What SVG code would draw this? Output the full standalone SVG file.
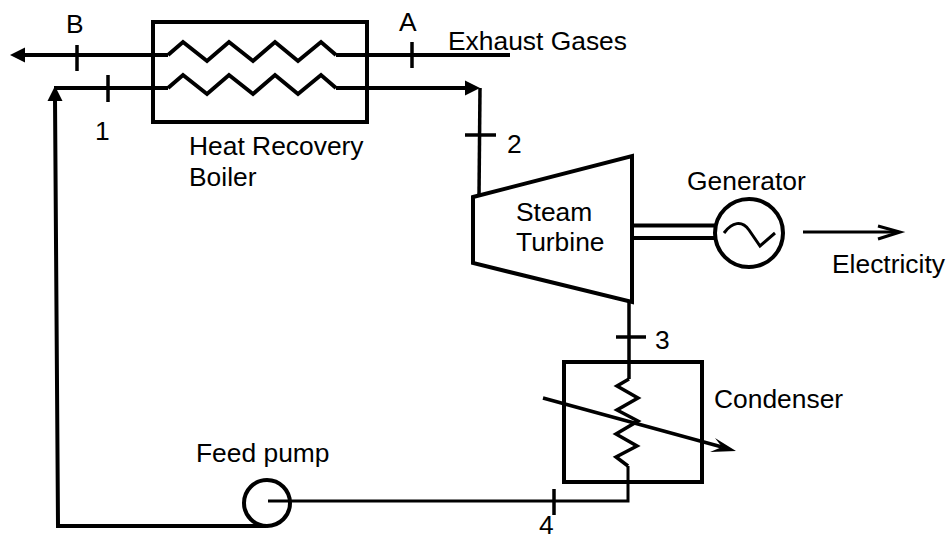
<svg xmlns="http://www.w3.org/2000/svg" width="947" height="540" viewBox="0 0 947 540">
<style>
.l{fill:none;stroke:#000;stroke-width:4}
.t{fill:none;stroke:#000;stroke-width:3.500}
.n{fill:none;stroke:#000;stroke-width:3}
text{font-family:"Liberation Sans",Arial,sans-serif;font-size:26.400px;fill:#000}
</style>
<rect width="947" height="540" fill="#fff"/>
<g id="connectors">
<path class="l" d="M168 55H25"/>
<path d="M10 55L25 47.500V62.500Z"/>
<path class="l" d="M336 55H510"/>
<path class="l" d="M54 88H168"/>
<path class="l" d="M336 88H468"/>
<path d="M480 88L465 80.500V95.500Z"/>
<path class="t" d="M480 88L479 196"/>
<path d="M55 86L62.500 101H47.500Z"/>
<path class="l" d="M55 98L58 526H266"/>
<path class="n" d="M268 501H628V466"/>
<path class="t" d="M629 302V379"/>
<path class="n" d="M803 232H895"/>
<path class="n" d="M878 226L900 232L878 239"/>
<path class="l" d="M633 225.500H715M633 238H715"/>
<path class="t" d="M543 398L722 447"/>
<path d="M736 451L715 438L722 447L710 452Z"/>
<path class="t" d="M77 45V71"/>
<path class="t" d="M412 42V68"/>
<path class="t" d="M108 75V102"/>
<path class="t" d="M465 135H496"/>
<path class="t" d="M616 337H646"/>
<path class="t" d="M554 489V515"/>
</g>
<g id="boiler">
<rect class="l" x="153" y="22" width="214" height="100"/>
<path class="l" d="M168 55L183 42L207 61L229 42L253 61L275 42L298 61L321 42L336 55"/>
<path class="l" d="M168 88L183 75L207 94L229 75L253 94L275 75L298 94L321 75L336 88"/>
<text x="189" y="155">Heat Recovery</text>
<text x="189" y="186">Boiler</text>
</g>
<g id="turbine">
<path class="l" d="M473 197L632 156V302L473 263Z"/>
<text x="516" y="221">Steam</text>
<text x="516" y="251">Turbine</text>
</g>
<g id="generator">
<circle class="l" cx="749" cy="233" r="34"/>
<path class="n" d="M724 233C732 222 742 220 749 230L760 246L775 233"/>
<text x="687" y="190">Generator</text>
</g>
<g id="condenser">
<rect class="l" x="564" y="362" width="138" height="120"/>
<path class="t" d="M629 379L617 386L638 398L617 410L638 421L616 434L637 446L616 457L628 466"/>
<text x="714" y="408">Condenser</text>
</g>
<g id="pump">
<circle class="l" cx="267" cy="503" r="23"/>
<text x="196" y="462">Feed pump</text>
</g>
<g id="labels">
<text x="66" y="33">B</text>
<text x="399" y="31">A</text>
<text x="448" y="50">Exhaust Gases</text>
<text x="95" y="140">1</text>
<text x="507" y="153">2</text>
<text x="655" y="349">3</text>
<text x="539" y="534">4</text>
<text x="832" y="273">Electricity</text>
</g>
</svg>
